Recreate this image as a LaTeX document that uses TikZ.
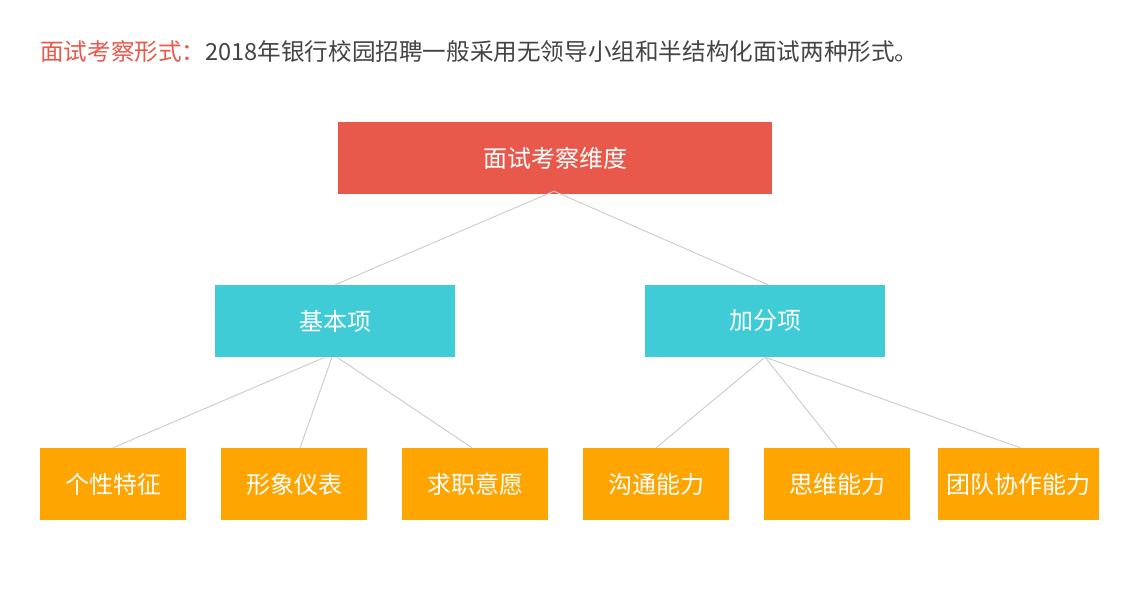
\documentclass[tikz,border=0pt]{standalone}
\usepackage{fontspec}
\setmainfont{Noto Sans CJK SC}
\definecolor{tred}{HTML}{E8594B}
\definecolor{tteal}{HTML}{3FCCD6}
\definecolor{torange}{HTML}{FFA502}
\definecolor{tgray}{HTML}{444444}
\definecolor{tline}{HTML}{CFCFCF}
\begin{document}
\begin{tikzpicture}[x=1pt,y=-1pt,
  box/.style={rectangle,draw=none,text=white,inner sep=0pt,minimum height=72pt,font=\fontsize{24}{28}\selectfont},
  rootbox/.style={box,fill=tred,minimum width=434pt},
  midbox/.style={box,fill=tteal,minimum width=240pt},
  leafbox/.style={box,fill=torange,minimum width=146pt},
  conn/.style={draw=tline,line width=1pt}]
\useasboundingbox[fill=white] (0,0) rectangle (1134,589);
\node[anchor=west,inner sep=0pt,font=\fontsize{23.6}{28}\selectfont] (title) at (40,52)
  {\textcolor{tred}{面试考察形式：}\textcolor{tgray}{2018年银行校园招聘一般采用无领导小组和半结构化面试两种形式。}};
\node[rootbox] (root) at (555,158) {面试考察维度};
\node[midbox] (basic) at (335,321) {基本项};
\node[midbox] (bonus) at (765,321) {加分项};
\node[leafbox] (l1) at (113,484) {个性特征};
\node[leafbox] (l2) at (294,484) {形象仪表};
\node[leafbox] (l3) at (475,484) {求职意愿};
\node[leafbox] (l4) at (656,484) {沟通能力};
\node[leafbox] (l5) at (837,484) {思维能力};
\node[leafbox,minimum width=161pt] (l6) at (1018.5,484) {团队协作能力};
\coordinate (rootc) at ([xshift=-1pt,yshift=3pt]root.south);
\draw[conn] (rootc) -- (basic.north);
\draw[conn] (rootc) -- ([xshift=3pt]bonus.north);
\draw[conn] ([xshift=-10pt]basic.south) -- ([xshift=0pt]l1.north);
\draw[conn] ([xshift=-3pt]basic.south) -- ([xshift=6pt]l2.north);
\draw[conn] ([xshift=2pt]basic.south) -- ([xshift=-3pt]l3.north);
\draw[conn] ([xshift=0pt]bonus.south) -- ([xshift=0pt]l4.north);
\draw[conn] ([xshift=0pt]bonus.south) -- ([xshift=0pt]l5.north);
\draw[conn] ([xshift=0pt]bonus.south) -- ([xshift=2pt]l6.north);
\end{tikzpicture}
\end{document}
